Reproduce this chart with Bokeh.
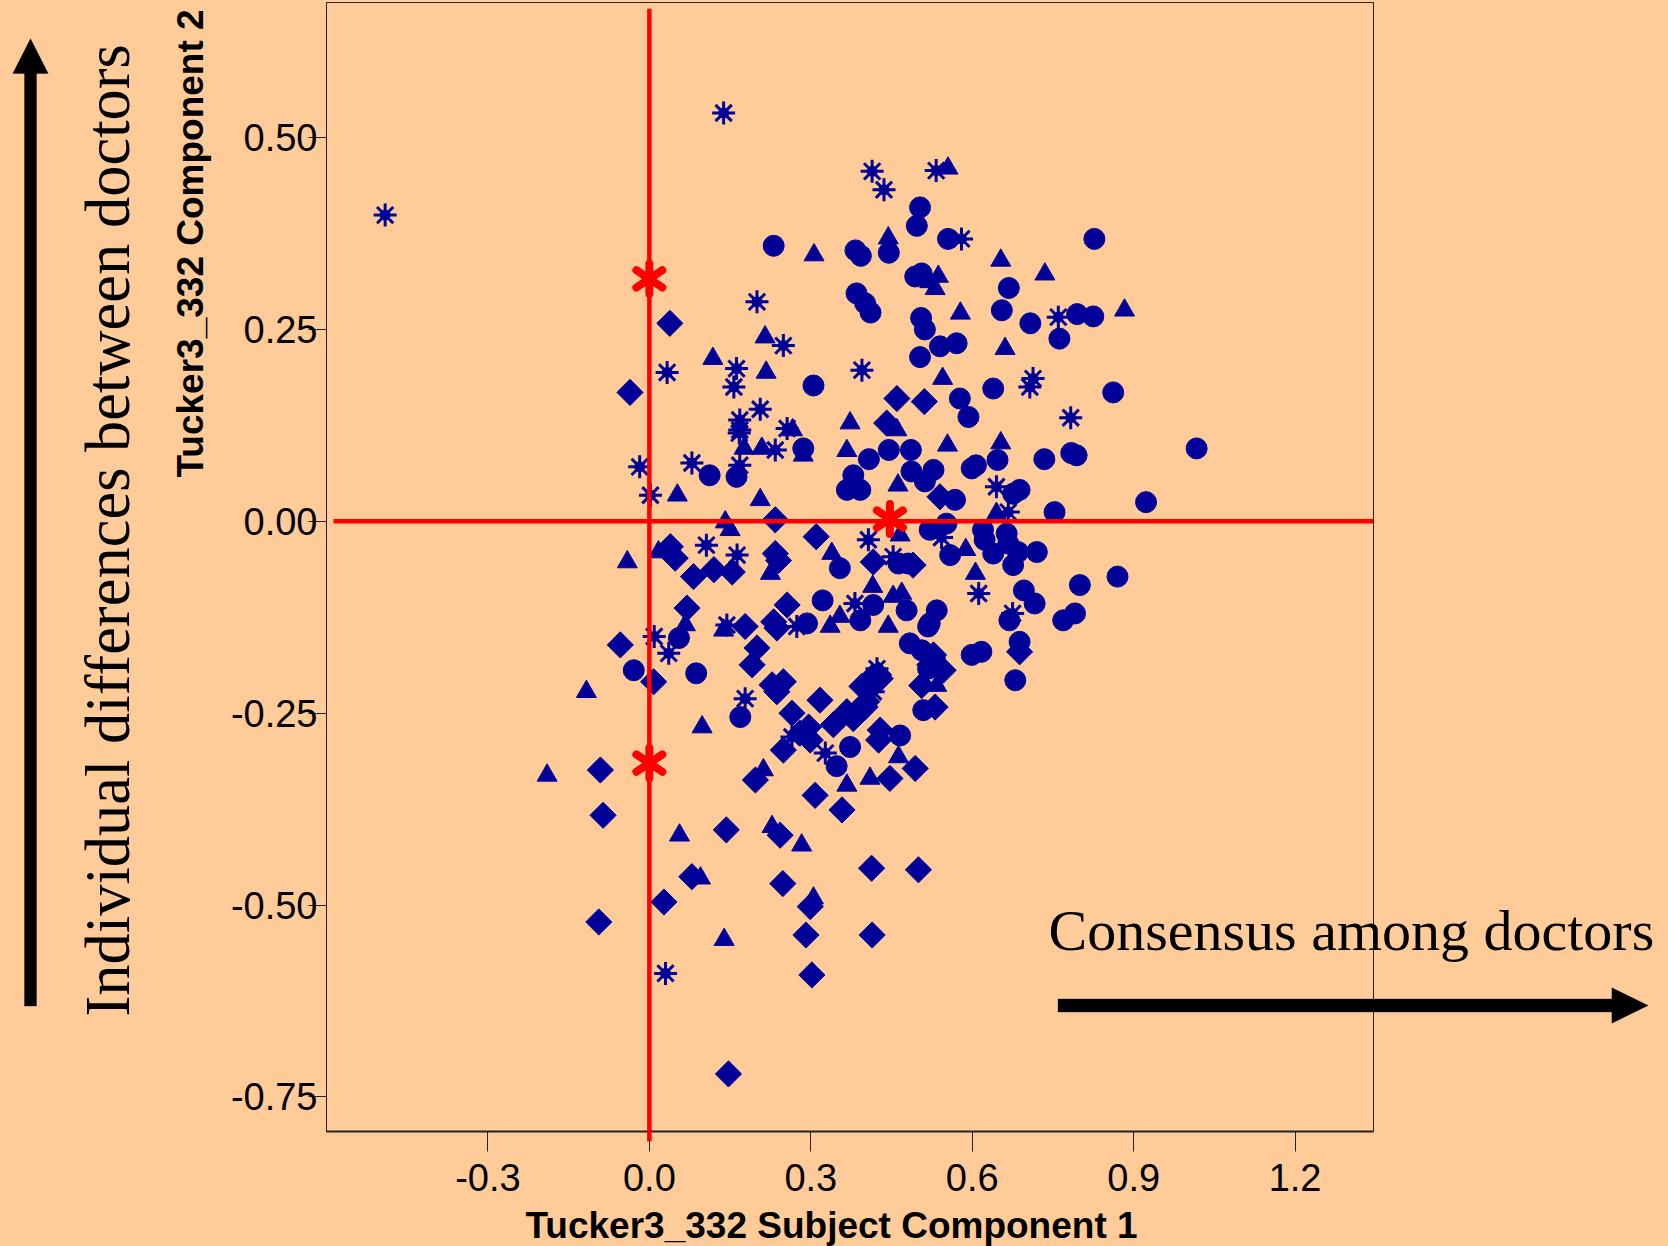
import math
from bokeh.plotting import figure
from bokeh.models import Range1d, FixedTicker, NumeralTickFormatter, Label, PolyAnnotation
from bokeh.embed import file_html
from bokeh.resources import INLINE

# ---------------- data ----------------
circle_x = [0.231, 0.383, 0.393, 0.503, 0.497, 0.555, 0.445, 0.827, 0.668, 0.655,
            0.708, 0.795, 0.825, 0.762, 0.385, 0.401, 0.411, 0.494, 0.506, 0.505,
            0.512, 0.540, 0.571, 0.503, 0.639, 0.862, 0.577, 0.593, 0.647, 0.734,
            0.784, 0.794, 1.017, 0.445, 0.486, 0.408, 0.487, 0.512, 0.528, 0.599,
            0.607, 0.676, 0.688, 0.923, 0.753, 0.568, 0.552, 0.521, 0.620, 0.623,
            0.639, 0.664, 0.667, 0.685, 0.720, 0.676, 0.559, 0.463, 0.481, 0.696,
            0.716, 0.800, 0.870, 0.769, 0.791, 0.416, 0.392, 0.478, 0.534, 0.521,
            0.669, 0.305, 0.286, 0.379, 0.367, 0.392, 0.112, 0.162, 0.354, 0.055,
            -0.029, 0.087, 0.322, 0.293, 0.169, 0.373, 0.484, 0.506, 0.518, 0.531,
            0.466, 0.348, 0.599, 0.617, 0.688, 0.680, 0.509, 0.518]
circle_y = [0.359, 0.353, 0.346, 0.409, 0.385, 0.368, 0.350, 0.368, 0.304, 0.275,
            0.258, 0.270, 0.267, 0.238, 0.297, 0.284, 0.272, 0.319, 0.323, 0.265,
            0.250, 0.228, 0.232, 0.214, 0.173, 0.168, 0.160, 0.136, 0.080, 0.081,
            0.089, 0.086, 0.095, 0.093, 0.093, 0.081, 0.065, 0.052, 0.067, 0.069,
            0.073, 0.036, 0.041, 0.025, 0.012, 0.028, -0.003, -0.011, -0.011, -0.024,
            -0.042, -0.016, -0.029, -0.040, -0.040, -0.057, -0.044, -0.055, -0.055, -0.090,
            -0.107, -0.083, -0.072, -0.129, -0.120, -0.109, -0.129, -0.116, -0.116, -0.133,
            -0.129, 0.177, 0.095, 0.060, 0.041, 0.041, 0.060, 0.058, -0.061, -0.152,
            -0.194, -0.198, -0.103, -0.133, -0.255, -0.294, -0.159, -0.168, -0.192, -0.181,
            -0.279, -0.319, -0.174, -0.170, -0.157, -0.207, -0.246, -0.137]

triangle_x = [0.555, 0.444, 0.306, 0.653, 0.735, 0.883, 0.537, 0.531, 0.521, 0.578,
              0.661, 0.545, 0.460, 0.373, 0.554, 0.653, 0.462, 0.645, 0.588, 0.606,
              0.415, 0.469, 0.453, 0.444, 0.215, 0.118, 0.217, 0.266, 0.176, 0.209,
              0.286, 0.367, 0.052, 0.206, 0.141, 0.150, 0.339, -0.041, 0.017, 0.225,
              0.067, -0.117, 0.098, 0.138, 0.354, 0.336, 0.466, 0.534, 0.463, 0.410,
              0.367, 0.212, -0.190, 0.056, 0.228, 0.283, 0.095, 0.305, 0.139]
triangle_y = [0.460, 0.369, 0.347, 0.340, 0.322, 0.275, 0.319, 0.303, 0.312, 0.271,
              0.225, 0.186, 0.119, 0.128, 0.099, 0.102, 0.047, 0.010, -0.037, -0.068,
              -0.085, -0.094, -0.098, -0.137, 0.240, 0.212, 0.194, 0.119, 0.095, 0.095,
              0.086, 0.092, 0.034, 0.028, -0.001, -0.011, -0.042, -0.053, -0.040, -0.068,
              -0.135, -0.222, -0.268, -0.142, -0.124, -0.137, -0.018, -0.214, -0.307, -0.335,
              -0.344, -0.324, -0.331, -0.409, -0.398, -0.422, -0.465, -0.491, -0.545]

diamond_x = [0.038, -0.036, 0.460, 0.511, 0.441, 0.540, 0.416, 0.490, 0.234, 0.310,
             0.039, 0.048, 0.082, 0.120, 0.154, 0.234, 0.240, 0.070, -0.054, 0.008,
             0.256, 0.231, 0.237, 0.178, 0.200, 0.191, 0.228, 0.249, 0.237, 0.317,
             0.265, 0.296, 0.280, 0.249, 0.342, 0.367, 0.379, 0.299, 0.385, 0.401,
             0.395, 0.416, 0.426, 0.426, 0.429, 0.494, 0.447, 0.308, 0.358, 0.197,
             -0.091, -0.086, 0.143, 0.243, 0.413, 0.500, 0.079, 0.248, 0.027, 0.299,
             -0.094, 0.291, 0.414, 0.302, 0.147, 0.688, 0.528, 0.546, 0.521, 0.506,
             0.531, 0.429, 0.404]
diamond_y = [0.258, 0.168, 0.160, 0.156, 0.128, 0.032, -0.053, -0.057, 0.002, -0.020,
             -0.033, -0.048, -0.072, -0.063, -0.066, -0.042, -0.051, -0.113, -0.161, -0.209,
             -0.109, -0.131, -0.139, -0.137, -0.165, -0.187, -0.213, -0.209, -0.222, -0.233,
             -0.250, -0.268, -0.276, -0.298, -0.265, -0.248, -0.257, -0.285, -0.248, -0.242,
             -0.215, -0.202, -0.200, -0.285, -0.272, -0.322, -0.335, -0.357, -0.376, -0.337,
             -0.324, -0.383, -0.402, -0.409, -0.452, -0.454, -0.463, -0.472, -0.496, -0.502,
             -0.522, -0.539, -0.539, -0.591, -0.720, -0.170, -0.174, -0.194, -0.187, -0.214,
             -0.242, -0.205, -0.235]

star_x = [-0.491, 0.138, 0.414, 0.436, 0.533, 0.580, 0.760, 0.395, 0.713, 0.707,
          0.783, 0.645, 0.667, 0.407, 0.453, 0.612, 0.675, 0.382, 0.200, 0.249,
          0.033, 0.162, 0.157, 0.206, 0.168, 0.168, 0.167, 0.256, 0.234, -0.018,
          0.002, 0.079, 0.168, 0.106, 0.163, 0.009, 0.036, 0.144, 0.274, 0.178,
          0.265, 0.327, 0.423, 0.416, 0.543, 0.030]
star_y = [0.399, 0.532, 0.456, 0.432, 0.457, 0.368, 0.266, 0.197, 0.186, 0.175,
          0.135, 0.045, 0.012, -0.024, -0.046, -0.094, -0.120, -0.107, 0.286, 0.229,
          0.194, 0.199, 0.175, 0.146, 0.132, 0.119, 0.115, 0.121, 0.093, 0.071,
          0.034, 0.076, 0.073, -0.031, -0.044, -0.150, -0.172, -0.135, -0.137, -0.231,
          -0.281, -0.302, -0.192, -0.222, -0.021, -0.589]

centre_x = [0.0, 0.0, 0.447]
centre_y = [0.316, -0.315, 0.003]
ref_line_x = 0.0
ref_line_y = 0.0

x_ticks = [-0.3, 0.0, 0.3, 0.6, 0.9, 1.2]
y_ticks = [0.50, 0.25, 0.0, -0.25, -0.50, -0.75]

x_title = "Tucker3_332 Subject Component 1"
y_title = "Tucker3_332 Component 2"
left_note = "Individual differences between doctors"
right_note = "Consensus among doctors"

# ---------------- layout ----------------
W, H = 1668, 1246
FL, FW, FT, FH = 326, 1047, 2, 1129
X0, X1 = -0.600, 1.3457
Y0, Y1 = -0.795, 0.676
BG = "#FFCC99"
NAVY = "#000099"


def dx(px):
    return X0 + (px - FL) / FW * (X1 - X0)


def px_of(x):
    return FL + (x - X0) / (X1 - X0) * FW


p = figure(width=W, height=H, x_range=Range1d(X0, X1), y_range=Range1d(Y0, Y1),
           output_backend="svg", toolbar_location=None,
           min_border_left=FL, min_border_right=W - FL - FW,
           min_border_top=FT, min_border_bottom=H - FT - FH)
p.background_fill_color = BG
p.border_fill_color = BG
p.outline_line_color = "#222222"
p.outline_line_width = 1
p.xgrid.visible = False
p.ygrid.visible = False

p.xaxis.ticker = FixedTicker(ticks=x_ticks)
p.xaxis.formatter = NumeralTickFormatter(format="0.0")
p.yaxis.ticker = FixedTicker(ticks=y_ticks)
p.yaxis.formatter = NumeralTickFormatter(format="0.00")
for ax in (p.xaxis, p.yaxis):
    ax.minor_tick_line_color = None
    ax.major_tick_in = 0
    ax.major_tick_line_color = "#222222"
    ax.axis_line_color = "#222222"
    ax.major_label_text_font = "Liberation Sans"
    ax.major_label_text_font_size = "38px"
    ax.major_label_text_color = "black"
p.xaxis.major_tick_out = 20
p.xaxis.major_label_standoff = 12
p.xaxis.axis_line_width = 2
p.yaxis.major_tick_out = 18
p.yaxis.major_label_standoff = -9

# ---------------- points ----------------
p.scatter(diamond_x, diamond_y, marker="square", angle=math.pi / 4, size=18.5,
          fill_color=NAVY, line_color=NAVY)
p.scatter(triangle_x, triangle_y, marker="triangle", size=20,
          fill_color=NAVY, line_color=NAVY)
p.scatter(star_x, star_y, marker="asterisk", size=23, line_color=NAVY, line_width=3)
p.scatter(star_x, star_y, marker="circle", size=10, fill_color=NAVY, line_color=NAVY)
p.scatter(circle_x, circle_y, marker="circle", size=21,
          fill_color=NAVY, line_color=NAVY)

# ---------------- red reference lines and centres ----------------
p.segment(x0=[dx(333)], y0=[ref_line_y], x1=[X1], y1=[ref_line_y],
          line_color="red", line_width=4.5)
p.segment(x0=[ref_line_x], y0=[Y1 - 0.008], x1=[ref_line_x], y1=[Y0],
          line_color="red", line_width=4.5)
for ang in (0, math.pi):
    p.scatter(centre_x, centre_y, marker="y", angle=ang, size=30, line_color="red",
              line_width=8, line_cap="round", line_join="round")

# ---------------- overlay (page-pixel coordinates) for texts and arrows ----------------
ov = figure(width=W, height=H, x_range=Range1d(0, W), y_range=Range1d(H, 0),
            output_backend="svg", toolbar_location=None,
            x_axis_type=None, y_axis_type=None,
            min_border_left=0, min_border_right=0, min_border_top=0, min_border_bottom=0)
ov.background_fill_alpha = 0
ov.border_fill_alpha = 0
ov.outline_line_color = None
ov.xgrid.visible = False
ov.ygrid.visible = False
ov.styles = {"position": "absolute", "top": "0px", "left": "0px"}

# red vertical line continues a little below the axis
ov.segment(x0=[px_of(ref_line_x)], y0=[FT + FH - 2], x1=[px_of(ref_line_x)], y1=[FT + FH + 10],
           line_color="red", line_width=4.5)

v_arrow = [(24, 1005.6), (36, 1005.6), (36, 73), (47.7, 73), (30, 38.2), (12.3, 73), (24, 73)]
h_arrow = [(1057.5, 998.5), (1611.4, 998.5), (1611.4, 987.3), (1647.6, 1005),
           (1611.4, 1022.7), (1611.4, 1011.5), (1057.5, 1011.5)]
for poly in (v_arrow, h_arrow):
    ov.add_layout(PolyAnnotation(xs=[a for a, b in poly], ys=[b for a, b in poly],
                                 fill_color="black", fill_alpha=1.0, line_color="black"))

ov.add_layout(Label(x=107.5, y=1016, text=left_note, angle=math.pi / 2,
                    text_font="Liberation Serif", text_font_size="62.5px",
                    text_align="left", text_baseline="alphabetic", text_color="black"))
ov.add_layout(Label(x=1048, y=930, text=right_note,
                    text_font="Liberation Serif", text_font_size="58px",
                    text_align="left", text_baseline="alphabetic", text_color="black"))
ov.add_layout(Label(x=189.5, y=477, text=y_title, angle=math.pi / 2,
                    text_font="Liberation Sans", text_font_style="bold", text_font_size="37px",
                    text_align="left", text_baseline="alphabetic", text_color="black"))
ov.add_layout(Label(x=525, y=1225, text=x_title,
                    text_font="Liberation Sans", text_font_style="bold", text_font_size="37px",
                    text_align="left", text_baseline="alphabetic", text_color="black"))

html = file_html([p, ov], INLINE)
html = html.replace("<body>", '<body style="background-color:#FFCC99; overflow:hidden;">')
open("out.html", "w").write(html)
